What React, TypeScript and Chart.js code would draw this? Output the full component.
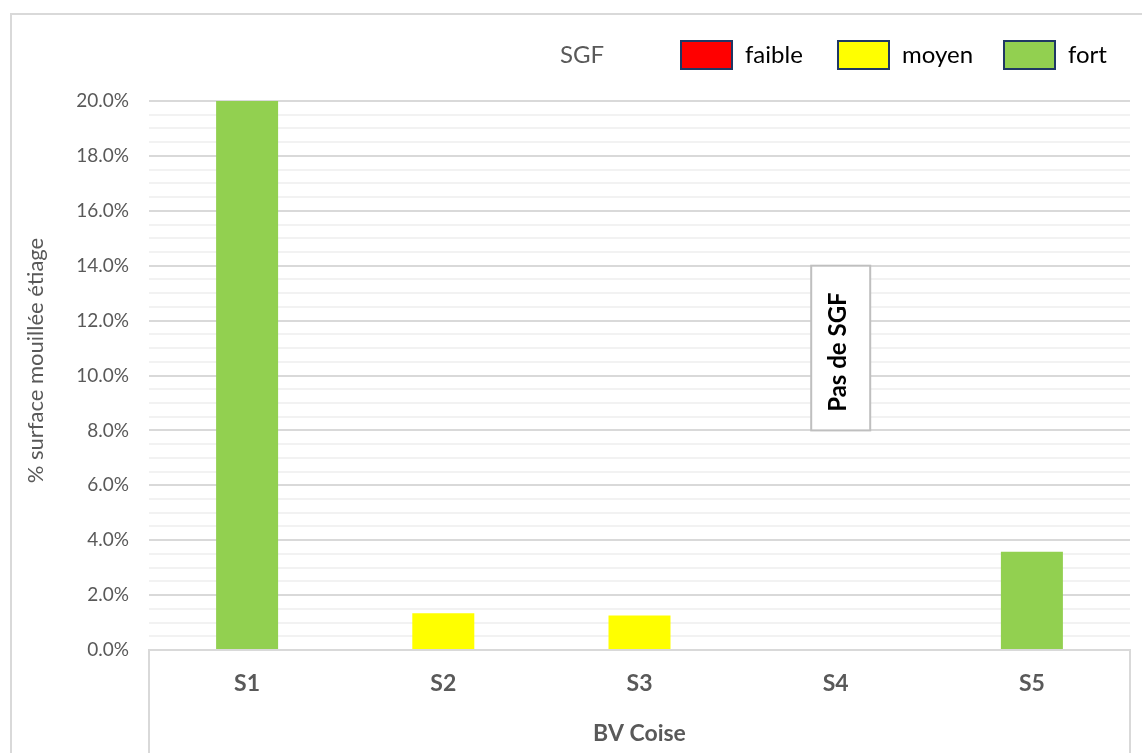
import React, { useEffect, useRef } from 'react';
import { Chart, registerables } from 'chart.js';

Chart.register(...registerables);

// ---- data ----
const categories = ['S1', 'S2', 'S3', 'S4', 'S5'];
const groupLabel = 'BV Coise';
const legendTitle = 'SGF';
const seriesNames = ['faible', 'moyen', 'fort'];
const seriesColors = ['#FF0000', '#FFFF00', '#92D050'];
const faibleValues: (number | null)[] = [null, null, null, null, null];
const moyenValues: (number | null)[] = [null, 1.34, 1.26, null, null];
const fortValues: (number | null)[] = [20.0, null, null, null, 3.58];
const yMin = 0;
const yMax = 20;
const yMajorStep = 2;
const yMinorStep = 0.5;
const yAxisTitle = '% surface mouillée étiage';
const noteText = 'Pas de SGF';
const noteCategory = 'S4';
const noteRange = [8, 14];

const FONT = 'Lato, "Open Sans", "Noto Sans", sans-serif';
const GRAY = '#595959';

const decorPlugin = {
  id: 'decor',
  beforeDraw(chart: any) {
    const { ctx, chartArea } = chart;
    ctx.save();
    ctx.fillStyle = '#ffffff';
    ctx.fillRect(0, 0, chart.width, chart.height);
    ctx.strokeStyle = '#d9d9d9';
    ctx.lineWidth = 2;
    ctx.strokeRect(11, 14, chart.width + 20, chart.height + 20);
    ctx.lineWidth = 2;
    ctx.beginPath();
    [chartArea.left, chartArea.right].forEach((x: number) => {
      ctx.moveTo(x, chartArea.bottom);
      ctx.lineTo(x, chart.height);
    });
    ctx.stroke();
    // y axis title (Excel-style placement)
    ctx.translate(36, (chartArea.top + chartArea.bottom) / 2 - 15);
    ctx.rotate(-Math.PI / 2);
    ctx.fillStyle = GRAY;
    ctx.font = `22px ${FONT}`;
    ctx.textAlign = 'center';
    ctx.textBaseline = 'middle';
    ctx.fillText(yAxisTitle, 0, 0);
    ctx.restore();
  },
  afterDatasetsDraw(chart: any) {
    const { ctx } = chart;
    const xs = chart.scales.x;
    const ys = chart.scales.y;
    // note box
    const cx = xs.getPixelForValue(categories.indexOf(noteCategory)) + 5;
    const yTop = ys.getPixelForValue(noteRange[1]);
    const yBot = ys.getPixelForValue(noteRange[0]);
    const w = 59;
    ctx.save();
    ctx.fillStyle = '#ffffff';
    ctx.fillRect(cx - w / 2, yTop, w, yBot - yTop);
    ctx.strokeStyle = '#bfbfbf';
    ctx.lineWidth = 2;
    ctx.strokeRect(cx - w / 2, yTop, w, yBot - yTop);
    ctx.translate(cx - 2, (yTop + yBot) / 2 + 4);
    ctx.rotate(-Math.PI / 2);
    ctx.fillStyle = '#000000';
    ctx.font = `bold 24px ${FONT}`;
    ctx.textAlign = 'center';
    ctx.textBaseline = 'middle';
    ctx.fillText(noteText, 0, 0);
    ctx.restore();

    // legend
    ctx.save();
    ctx.textBaseline = 'middle';
    ctx.textAlign = 'left';
    const ly = 55;
    ctx.font = `24px ${FONT}`;
    ctx.fillStyle = GRAY;
    ctx.fillText(legendTitle, 560, ly);
    const boxX = [681, 838, 1004];
    chart.data.datasets.forEach((ds: any, i: number) => {
      const x = boxX[i];
      ctx.fillStyle = ds.backgroundColor;
      ctx.fillRect(x, 41, 51, 28);
      ctx.strokeStyle = '#1f3864';
      ctx.lineWidth = 2;
      ctx.strokeRect(x, 41, 51, 28);
      ctx.fillStyle = '#000000';
      ctx.font = `24px ${FONT}`;
      ctx.fillText(ds.label, x + 64, ly);
    });
    ctx.restore();
  },
};

export default function App() {
  const ref = useRef<HTMLCanvasElement>(null);
  useEffect(() => {
    if (!ref.current) return;
    const seriesValues = [faibleValues, moyenValues, fortValues];
    const chart = new Chart(ref.current, {
      type: 'bar',
      data: {
        labels: categories,
        datasets: seriesNames.map((name, i) => ({
          label: name,
          data: seriesValues[i],
          backgroundColor: seriesColors[i],
          borderWidth: 0,
          categoryPercentage: 1,
          barPercentage: 0.316,
        })),
      },
      options: {
        animation: false,
        responsive: false,
        layout: { padding: { left: 10, right: 12, top: 101, bottom: 0 } },
        plugins: {
          legend: { display: false },
          tooltip: { enabled: false },
        },
        scales: {
          x: {
            stacked: true,
            grid: { display: false, drawTicks: false },
            border: { display: true, color: '#d9d9d9', width: 2 },
            ticks: {
              padding: 20,
              color: GRAY,
              font: { family: FONT, size: 23, weight: 'bold' },
            },
            title: {
              display: true,
              text: groupLabel,
              color: GRAY,
              font: { family: FONT, size: 23, weight: 'bold' },
              padding: { top: 0, bottom: 6 },
            },
            afterFit: (s: any) => {
              s.height = 103;
            },
          },
          y: {
            stacked: true,
            min: yMin,
            max: yMax,
            border: { display: false },
            grid: {
              drawTicks: false,
              lineWidth: 2,
              color: (c: any) =>
                c.tick && Math.abs(c.tick.value % yMajorStep) < 1e-9 ? '#d9d9d9' : '#f2f2f2',
            },
            ticks: {
              stepSize: yMinorStep,
              padding: 20,
              color: GRAY,
              font: { family: FONT, size: 19 },
              autoSkip: false,
              callback: (v: any) =>
                Math.abs(Number(v) % yMajorStep) < 1e-9 ? Number(v).toFixed(1) + '%' : '',
            },
            title: { display: false },
            afterFit: (s: any) => {
              s.width = 139;
            },
          },
        },
      },
      plugins: [decorPlugin],
    });
    return () => chart.destroy();
  }, []);
  return (
    <div style={{ position: 'absolute', left: 0, top: 0, width: 1142, height: 753 }}>
      <canvas ref={ref} width={1142} height={753} style={{ display: 'block' }} />
    </div>
  );
}
